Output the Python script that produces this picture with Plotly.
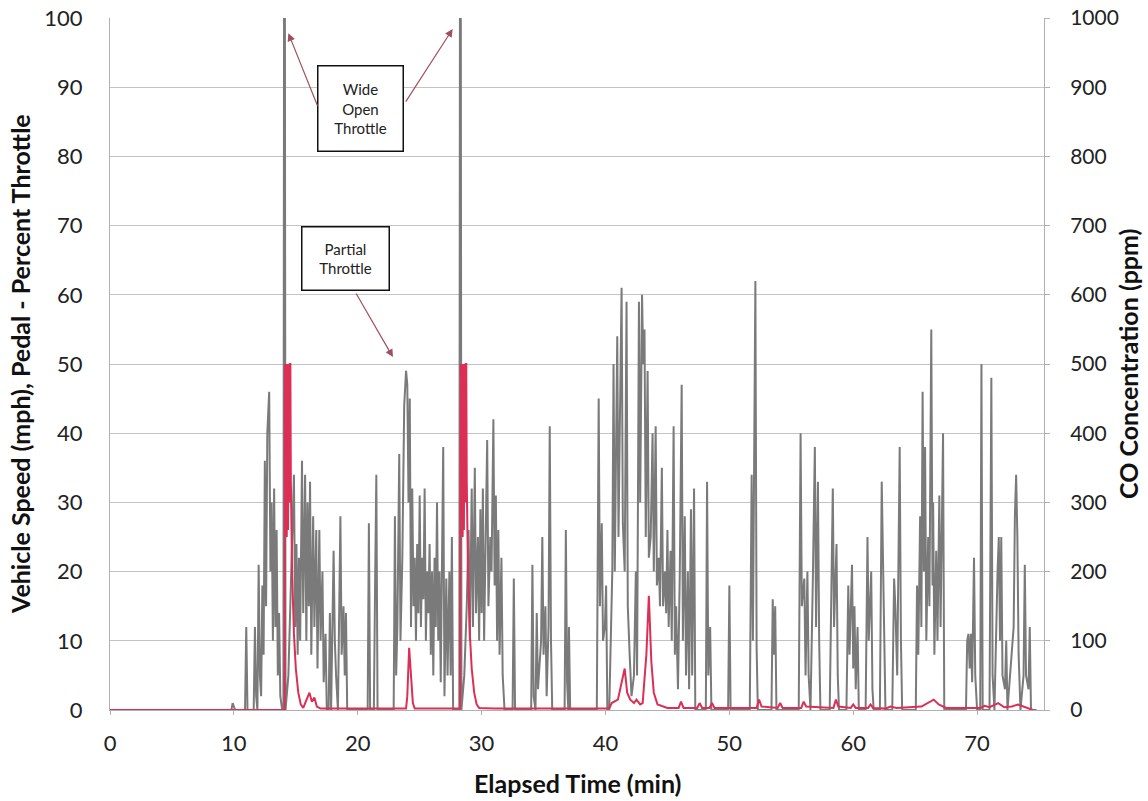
import plotly.graph_objects as go

# ---- Pedal / throttle (%), gray trace: (elapsed min, percent) ----
PEDAL = [
    (0.0, 0), (9.8, 0), (9.9, 1), (10.0, 0.5), (10.1, 0),
    (10.9, 0), (11.0, 12), (11.1, 0), (11.6, 0), (11.7, 12), (11.8, 2), (11.9, 0),
    (12.0, 21), (12.1, 5), (12.2, 2), (12.3, 18), (12.4, 8), (12.5, 36), (12.6, 15),
    (12.7, 40), (12.85, 46), (12.95, 20), (13.05, 30), (13.15, 10), (13.25, 32),
    (13.35, 12), (13.45, 26), (13.55, 5), (13.65, 14), (13.75, 2), (13.9, 0),
    (14.0, 0), (14.05, 100), (14.12, 100), (14.17, 0),
    (14.4, 5), (14.6, 18), (14.85, 34), (14.95, 12), (15.05, 24), (15.15, 8),
    (15.25, 22), (15.35, 10), (15.5, 36), (15.6, 14), (15.75, 34), (15.85, 10),
    (15.95, 30), (16.05, 15), (16.15, 33), (16.25, 8), (16.4, 28), (16.5, 12),
    (16.65, 26), (16.75, 6), (16.9, 26), (17.0, 10), (17.15, 20), (17.25, 4),
    (17.4, 11), (17.5, 0), (17.65, 0), (17.75, 14), (17.85, 0), (18.05, 23),
    (18.15, 10), (18.25, 5), (18.4, 0), (18.6, 28), (18.7, 8), (18.85, 15),
    (18.95, 5), (19.05, 14), (19.15, 0),
    (20.8, 0), (20.9, 27), (21.0, 0), (21.3, 0), (21.4, 18), (21.5, 34), (21.6, 0),
    (22.9, 0), (23.0, 28), (23.1, 5), (23.2, 12), (23.35, 37), (23.45, 10),
    (23.6, 22), (23.75, 44), (23.9, 49), (24.0, 47), (24.1, 30), (24.2, 45),
    (24.3, 12), (24.4, 32), (24.5, 15), (24.6, 22), (24.7, 10), (24.8, 24),
    (24.9, 14), (25.0, 31), (25.1, 12), (25.2, 22), (25.3, 16), (25.4, 32),
    (25.5, 10), (25.6, 20), (25.7, 14), (25.8, 24), (25.9, 8), (26.0, 20),
    (26.1, 5), (26.2, 22), (26.3, 12), (26.4, 30), (26.5, 10), (26.6, 20),
    (26.7, 4), (26.9, 38), (27.0, 2), (27.15, 19), (27.25, 5), (27.4, 20),
    (27.5, 5), (27.6, 25), (27.7, 0), (28.1, 0),
    (28.2, 0), (28.25, 100), (28.32, 100), (28.37, 0),
    (28.6, 5), (28.8, 15), (28.95, 26), (29.05, 10), (29.2, 32), (29.3, 12),
    (29.45, 35), (29.55, 14), (29.7, 25), (29.8, 10), (29.9, 29), (30.0, 14),
    (30.1, 32), (30.2, 10), (30.3, 20), (30.45, 39), (30.55, 15), (30.7, 25),
    (30.8, 20), (30.95, 42), (31.05, 18), (31.15, 31), (31.25, 10), (31.35, 26),
    (31.45, 8), (31.6, 22), (31.7, 5), (31.85, 0),
    (32.5, 0), (32.6, 19), (32.7, 0), (34.0, 0), (34.1, 21), (34.2, 2),
    (34.35, 0), (34.45, 14), (34.55, 3), (34.8, 10), (34.9, 25), (35.0, 8),
    (35.15, 15), (35.25, 2), (35.4, 12), (35.5, 41), (35.6, 10), (35.7, 0),
    (36.7, 0), (36.8, 26), (36.9, 4), (37.0, 0), (37.05, 12), (37.15, 0),
    (39.3, 0), (39.45, 45), (39.55, 15), (39.7, 27), (39.8, 10), (39.95, 12),
    (40.05, 18), (40.15, 0), (40.3, 0), (40.55, 20), (40.65, 50), (40.75, 20),
    (40.95, 54), (41.05, 25), (41.15, 40), (41.3, 61), (41.4, 27), (41.55, 20),
    (41.7, 59), (41.8, 15), (41.95, 8), (42.1, 2), (42.3, 5), (42.45, 20),
    (42.55, 5), (42.7, 59), (42.8, 30), (42.95, 60), (43.05, 50), (43.15, 55),
    (43.25, 25), (43.4, 49), (43.5, 22), (43.65, 25), (43.8, 40), (43.9, 20),
    (44.05, 41), (44.15, 18), (44.3, 22), (44.4, 15), (44.55, 35), (44.65, 15),
    (44.8, 20), (44.9, 14), (45.0, 26), (45.1, 12), (45.25, 23), (45.35, 10),
    (45.5, 41), (45.6, 8), (45.7, 15), (45.85, 3), (46.0, 20), (46.15, 47),
    (46.25, 10), (46.4, 28), (46.5, 5), (46.65, 20), (46.75, 3), (46.9, 29),
    (47.0, 5), (47.15, 32), (47.25, 0), (48.1, 0), (48.2, 33), (48.3, 5),
    (48.45, 12), (48.55, 0), (49.9, 0), (50.0, 18), (50.1, 0),
    (51.65, 0), (51.8, 34), (51.9, 10), (52.1, 62), (52.2, 9), (52.3, 0),
    (53.4, 0), (53.5, 16), (53.6, 8), (53.7, 15), (53.8, 0),
    (55.6, 0), (55.75, 40), (55.85, 15), (56.05, 19), (56.15, 5), (56.3, 20),
    (56.4, 5), (56.55, 0), (56.75, 20), (56.9, 38), (57.0, 12), (57.15, 33),
    (57.25, 10), (57.35, 0),
    (58.1, 0), (58.25, 18), (58.35, 32), (58.45, 12), (58.65, 24), (58.75, 5),
    (58.85, 0), (59.45, 0), (59.6, 18), (59.7, 8), (59.9, 21), (60.0, 6),
    (60.1, 15), (60.2, 3), (60.35, 12), (60.45, 0),
    (61.0, 0), (61.15, 25), (61.25, 10), (61.45, 20), (61.55, 3), (61.65, 0),
    (62.15, 0), (62.3, 33), (62.4, 22), (62.5, 10), (62.6, 0),
    (63.15, 0), (63.3, 19), (63.4, 15), (63.55, 5), (63.75, 38), (63.85, 10),
    (63.95, 0),
    (65.05, 0), (65.15, 18), (65.25, 8), (65.4, 28), (65.5, 12), (65.6, 46),
    (65.7, 20), (65.8, 38), (65.9, 10), (66.05, 25), (66.15, 15), (66.3, 55),
    (66.4, 18), (66.45, 30), (66.55, 8), (66.7, 23), (66.8, 10), (66.95, 31),
    (67.05, 12), (67.25, 40), (67.35, 0),
    (69.1, 0), (69.2, 10), (69.3, 11), (69.4, 6), (69.5, 11), (69.6, 4),
    (69.75, 22), (69.85, 5), (70.0, 0), (70.25, 0), (70.35, 50), (70.45, 0),
    (71.0, 0), (71.15, 48), (71.25, 5), (71.4, 0), (71.65, 20), (71.75, 25),
    (71.85, 10), (71.95, 25), (72.05, 5), (72.25, 3), (72.35, 10), (72.45, 0),
    (72.95, 12), (73.05, 28), (73.15, 34), (73.25, 25), (73.35, 8), (73.5, 0),
    (73.75, 5), (73.85, 21), (73.95, 5), (74.15, 3), (74.25, 12), (74.35, 0),
    (74.8, 0),
]

# ---- CO concentration (ppm), red trace: (elapsed min, ppm) ----
CO = [
    (0.0, 0), (13.9, 0), (14.1, 0), (14.12, 500), (14.17, 280), (14.22, 500),
    (14.27, 250), (14.32, 500), (14.37, 260), (14.42, 500), (14.47, 300),
    (14.52, 500), (14.56, 500), (14.6, 330), (14.7, 200), (14.85, 110),
    (15.0, 60), (15.2, 25), (15.4, 8), (15.6, 3), (15.9, 15), (16.1, 25),
    (16.3, 12), (16.5, 18), (16.7, 5), (17.0, 2), (23.9, 2), (24.0, 20),
    (24.15, 90), (24.3, 40), (24.45, 10), (24.6, 2), (28.25, 2), (28.32, 500),
    (28.37, 280), (28.42, 500), (28.47, 250), (28.52, 500), (28.57, 260),
    (28.62, 500), (28.67, 300), (28.72, 500), (28.76, 500), (28.8, 330),
    (28.9, 200), (29.05, 110), (29.2, 60), (29.4, 25), (29.6, 8), (29.8, 3),
    (31.0, 2), (40.3, 2), (40.5, 10), (41.0, 15), (41.3, 40), (41.55, 60),
    (41.75, 25), (42.0, 15), (42.3, 10), (42.5, 15), (42.8, 8), (43.0, 10),
    (43.3, 80), (43.5, 165), (43.7, 70), (43.9, 25), (44.2, 8), (45.0, 3),
    (45.9, 3), (46.1, 12), (46.3, 3), (47.4, 3), (47.6, 10), (47.8, 3),
    (48.4, 3), (48.6, 10), (48.8, 3), (52.2, 3), (52.4, 15), (52.6, 5),
    (53.9, 3), (54.1, 10), (54.3, 3), (55.8, 3), (56.0, 12), (56.2, 5),
    (58.4, 3), (58.6, 15), (58.8, 5), (59.8, 3), (60.0, 8), (60.2, 3),
    (61.2, 3), (61.4, 8), (61.6, 3), (62.6, 2), (63.0, 5), (63.5, 3),
    (65.5, 5), (66.0, 10), (66.5, 15), (66.9, 8), (67.5, 3), (70.3, 3),
    (70.6, 6), (71.0, 4), (71.7, 10), (72.2, 4), (72.8, 5), (73.3, 8),
    (74.0, 3), (74.5, 0),
]

X_TICKS = [0, 10, 20, 30, 40, 50, 60, 70]
Y_TICKS = [0, 10, 20, 30, 40, 50, 60, 70, 80, 90, 100]
Y2_TICKS = [0, 100, 200, 300, 400, 500, 600, 700, 800, 900, 1000]

t_pedal = [p[0] for p in PEDAL]
v_pedal = [p[1] for p in PEDAL]
t_co = [p[0] for p in CO]
v_co = [p[1] for p in CO]

FONT = "Lato, 'Open Sans', sans-serif"
TITLE_FONT = dict(family=FONT, size=25, color="#111")
fig = go.Figure()
fig.add_trace(go.Scatter(x=t_pedal, y=v_pedal, mode="lines",
                         line=dict(color="#7a7a7a", width=2),
                         name="Pedal - Percent Throttle", yaxis="y"))
fig.add_trace(go.Scatter(x=t_co, y=v_co, mode="lines",
                         line=dict(color="#dc2f55", width=2),
                         name="CO Concentration", yaxis="y2"))

ann = []
ann.append(dict(x=20.2, y=86.9, xref="x", yref="y", text="Wide<br>Open<br>Throttle",
                showarrow=False, bordercolor="#111", borderwidth=1.5, borderpad=10,
                bgcolor="white", width=64, height=64,
                font=dict(family=FONT, size=15, color="#222")))
ann.append(dict(x=19.0, y=65.2, xref="x", yref="y", text="Partial<br>Throttle",
                showarrow=False, bordercolor="#111", borderwidth=1.5, borderpad=10,
                bgcolor="white", width=66, height=42,
                font=dict(family=FONT, size=15, color="#222")))
for (tx, ty, hx, hy) in [(16.8, 87.1, 14.4, 97.8), (23.8, 87.7, 27.66, 98.4),
                         (19.8, 60.4, 22.84, 51.0)]:
    ann.append(dict(x=hx, y=hy, ax=tx, ay=ty, xref="x", yref="y", axref="x", ayref="y",
                    text="", showarrow=True, arrowhead=2, arrowsize=1.3,
                    arrowwidth=1.2, arrowcolor="#a0505c"))
# axis titles
ann.append(dict(x=-0.0964, y=0.5, xref="paper", yref="paper", textangle=-90,
                text="<b>Vehicle Speed (mph), Pedal - Percent Throttle</b>",
                showarrow=False, xanchor="center", yanchor="middle", font=TITLE_FONT))
ann.append(dict(x=1.0899, y=0.5, xref="paper", yref="paper", textangle=-90,
                text="<b>CO Concentration (ppm)</b>",
                showarrow=False, xanchor="center", yanchor="middle", font=TITLE_FONT))
ann.append(dict(x=0.5, y=-0.1055, xref="paper", yref="paper",
                text="<b>Elapsed Time (min)</b>",
                showarrow=False, xanchor="center", yanchor="middle", font=TITLE_FONT))

fig.update_layout(
    width=1148, height=801,
    margin=dict(l=110, r=104, t=18, b=91, autoexpand=False),
    paper_bgcolor="white", plot_bgcolor="white",
    showlegend=False,
    font=dict(family=FONT, size=20, color="#222"),
    annotations=ann,
    xaxis=dict(range=[0, 75.4], tickvals=X_TICKS, showgrid=False, zeroline=False,
               showline=True, linecolor="#b0b0b0", linewidth=1, automargin=False,
               ticks="outside", ticklen=4, tickcolor="#b0b0b0",
               tickfont=dict(size=22), ticklabelstandoff=10),
    yaxis=dict(range=[0, 100], tickvals=Y_TICKS, showgrid=True, gridcolor="#c4c4c4",
               gridwidth=1, zeroline=False, showline=True, linecolor="#b0b0b0",
               automargin=False, ticks="", tickfont=dict(size=22), ticklabelstandoff=22,
               ticklabeloverflow="allow"),
    yaxis2=dict(range=[0, 1000], tickvals=Y2_TICKS, overlaying="y", side="right",
                showgrid=False, zeroline=False, showline=True, linecolor="#b0b0b0",
                automargin=False, ticks="outside", ticklen=5, tickcolor="#b0b0b0",
                tickfont=dict(size=21), ticklabelstandoff=16,
                ticklabeloverflow="allow"),
)

fig.write_html("out.html", config={"displayModeBar": False},
               post_script="document.body.style.margin='0';document.body.style.overflow='hidden';")
